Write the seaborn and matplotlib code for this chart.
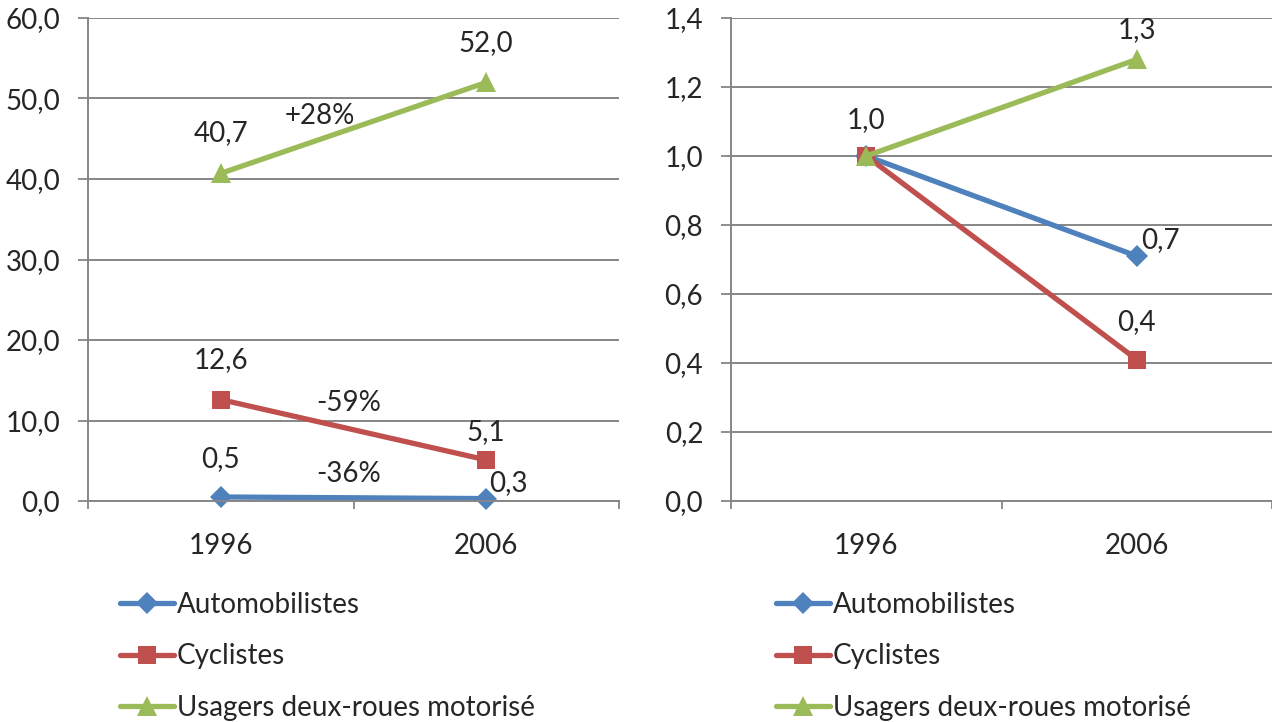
import numpy as np
import pandas as pd
import seaborn as sns
import matplotlib.pyplot as plt
from matplotlib.lines import Line2D
from matplotlib.ticker import FuncFormatter, FixedLocator

years = ["1996", "2006"]
series = ["Automobilistes", "Cyclistes", "Usagers deux-roues motorisé"]

# left panel: values
vals_abs = {
    "Automobilistes": [0.5, 0.3],
    "Cyclistes": [12.6, 5.1],
    "Usagers deux-roues motorisé": [40.7, 52.0],
}
# right panel: index, 1996 = 1
vals_idx = {
    "Automobilistes": [1.0, 0.71],
    "Cyclistes": [1.0, 0.41],
    "Usagers deux-roues motorisé": [1.0, 1.28],
}
changes = ["-36%", "-59%", "+28%"]

colors = {"Automobilistes": "#4F81BD", "Cyclistes": "#C0504D",
          "Usagers deux-roues motorisé": "#9BBB59"}
markers = {"Automobilistes": "D", "Cyclistes": "s",
           "Usagers deux-roues motorisé": "^"}
msizes = {"Automobilistes": 11, "Cyclistes": 13, "Usagers deux-roues motorisé": 14}

sns.set_style("white")
plt.rcParams["font.family"] = ["Lato", "DejaVu Sans"]
FS = 20
GRID = "#868686"


def to_df(d):
    rows = []
    for s in series:
        for i, y in enumerate(years):
            rows.append({"serie": s, "pos": i, "year": y, "val": d[s][i]})
    return pd.DataFrame(rows)


def comma(v, pos=None, nd=1):
    return f"{v:.{nd}f}".replace(".", ",")


def setup_axis(ax, ymax, step):
    ax.set_xlim(-0.5, 1.5)
    ax.set_ylim(0, ymax)
    ax.set_yticks(np.arange(0, ymax + step / 2, step))
    ax.yaxis.set_major_formatter(FuncFormatter(lambda v, p: comma(v)))
    ax.set_xticks([0, 1])
    ax.set_xticklabels(years)
    ax.xaxis.set_minor_locator(FixedLocator([-0.5, 0.5, 1.5]))
    ax.tick_params(axis="y", length=7, width=1.3, color=GRID, pad=13, labelsize=FS, direction="out", left=True)
    ax.tick_params(axis="x", which="major", length=0, pad=23, labelsize=FS)
    ax.tick_params(axis="x", which="minor", length=6, width=1.3, color=GRID, direction="out", bottom=True)
    ax.grid(axis="y", color=GRID, lw=1.4)
    ax.set_axisbelow(True)
    for sp in ["top", "right"]:
        ax.spines[sp].set_visible(False)
    for sp in ["left", "bottom"]:
        ax.spines[sp].set_color(GRID)
        ax.spines[sp].set_linewidth(1.4)
    ax.set_xlabel("")
    ax.set_ylabel("")


def draw(ax, d):
    df = to_df(d)
    for s in series:
        sub = df[df.serie == s]
        sns.lineplot(data=sub, x="pos", y="val", ax=ax, color=colors[s], lw=3.8,
                     marker=markers[s], markersize=msizes[s], markeredgewidth=0,
                     legend=False, clip_on=False)


fig = plt.figure(figsize=(12.72, 7.22), dpi=100)
ax1 = fig.add_axes([88 / 1272, 1 - 501 / 722, 531 / 1272, 483 / 722])
ax2 = fig.add_axes([731 / 1272, 1 - 501 / 722, 541 / 1272, 483 / 722])

draw(ax1, vals_abs)
setup_axis(ax1, 60, 10)
draw(ax2, vals_idx)
setup_axis(ax2, 1.4, 0.2)

# data labels (offset in pixels)
lab_off_left = {
    "Automobilistes": [(0, 38), (22, 16)],
    "Cyclistes": [(0, 40), (0, 28)],
    "Usagers deux-roues motorisé": [(0, 40), (0, 39)],
}
for s in series:
    for i in range(2):
        ax1.annotate(comma(vals_abs[s][i]), (i, vals_abs[s][i]), xytext=lab_off_left[s][i],
                     textcoords="offset pixels", ha="center", va="center", fontsize=FS)

lab_off_right = {
    "Automobilistes": [None, (24, 16)],
    "Cyclistes": [None, (0, 38)],
    "Usagers deux-roues motorisé": [(0, 36), (0, 29)],
}
for s in series:
    for i in range(2):
        if lab_off_right[s][i] is None:
            continue
        ax2.annotate(comma(vals_idx[s][i]), (i, vals_idx[s][i]), xytext=lab_off_right[s][i],
                     textcoords="offset pixels", ha="center", va="center", fontsize=FS)

# percentage change labels in left panel
chg_pos = [(0.483, 3.4), (0.483, 12.2), (0.374, 47.8)]
for txt, (x, y) in zip(changes, chg_pos):
    ax1.text(x, y, txt, ha="center", va="center", fontsize=FS)

handles = [Line2D([], [], color=colors[s], lw=3.8, marker=markers[s],
                  markersize=msizes[s], markeredgewidth=0) for s in series]
for xleg in [120 / 1272, 776 / 1272]:
    fig.legend(handles, series, loc="upper left", bbox_to_anchor=(xleg, 1 - 592 / 722),
               frameon=False, fontsize=FS, handlelength=1.95, handletextpad=0.1,
               labelspacing=0.91, borderpad=0, borderaxespad=0)

fig.savefig("out.png", dpi=100, facecolor="white")
